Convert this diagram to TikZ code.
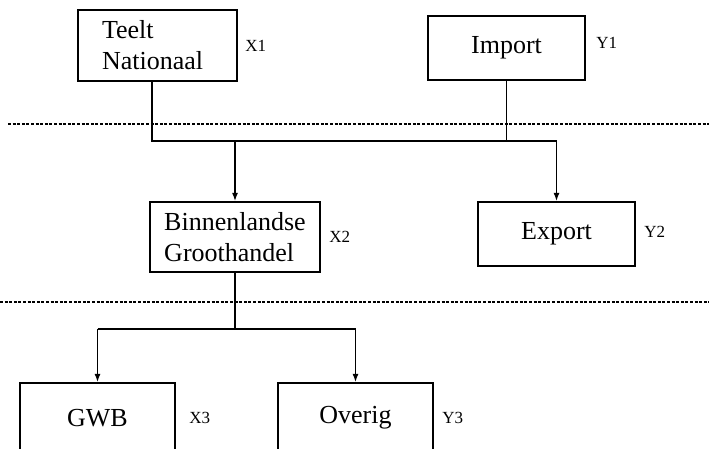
\documentclass[tikz,border=0pt]{standalone}
\usepackage{fontspec}
\setmainfont{Liberation Serif}
\usetikzlibrary{positioning,arrows.meta}

\begin{document}
\begin{tikzpicture}[x=1pt,y=-1pt,
                    box/.style={draw,line width=2.2pt,minimum width=157pt,minimum height=64pt,
                                inner sep=0pt,font=\fontsize{26}{31}\selectfont},
                    tag/.style={inner sep=0pt,font=\fontsize{17}{20}\selectfont},
                    link/.style={line width=1.2pt},
                    arr/.style={line width=1.2pt,-{Latex[length=8pt,width=6pt]}},
                    sep/.style={line width=1.1pt,dash pattern=on 3pt off 1.6pt}]

                    \clip (0,0) rectangle (709,449);

                    % boxes
                    \node[box,align=left,text width=111pt,inner xsep=24pt,minimum height=71pt] (teelt) at (157.5,45.5) {Teelt\\Nationaal};
                    \node[box] (import) at (506.5,48) {Import};
                    \node[box,align=left,minimum width=170pt,minimum height=70pt] (binnen) at (235,237) {Binnenlandse\\Groothandel};
                    \node[box] (export) at (556.5,234) {Export};
                    \node[box,minimum width=155pt,minimum height=70pt] (gwb) at (97.5,418) {GWB};
                    \node[box,minimum width=155pt,minimum height=70pt] (overig) at (355.5,418) {Overig};

                    % labels
                    \node[tag,right=7pt of teelt] {X1};
                    \node[tag,right=10pt of import,yshift=5pt] {Y1};
                    \node[tag,right=8pt of binnen] {X2};
                    \node[tag,right=8pt of export,yshift=2pt] {Y2};
                    \node[tag,right=13pt of gwb] {X3};
                    \node[tag,right=8pt of overig] {Y3};

                    % dashed separators
                    \draw[sep] (8,124) -- (709,124);
                    \draw[sep] (0,302) -- (709,302);

                    % connectors
                    \coordinate (busA) at (152,141);
                    \coordinate (busB) at (0,329);

                    \draw[link] (busA |- teelt.south) -- (busA) -- (export.north |- busA);
                    \draw[link] (import.south) -- (import.south |- busA);
                    \draw[arr] (binnen.north |- busA) -- (binnen.north);
                    \draw[arr] (export.north |- busA) -- (export.north);

                    \draw[link] (binnen.south) -- (binnen.south |- busB);
                    \draw[link] (gwb.north |- busB) -- (overig.north |- busB);
                    \draw[arr] (gwb.north |- busB) -- (gwb.north);
                    \draw[arr] (overig.north |- busB) -- (overig.north);
                \end{tikzpicture}
\end{document}
